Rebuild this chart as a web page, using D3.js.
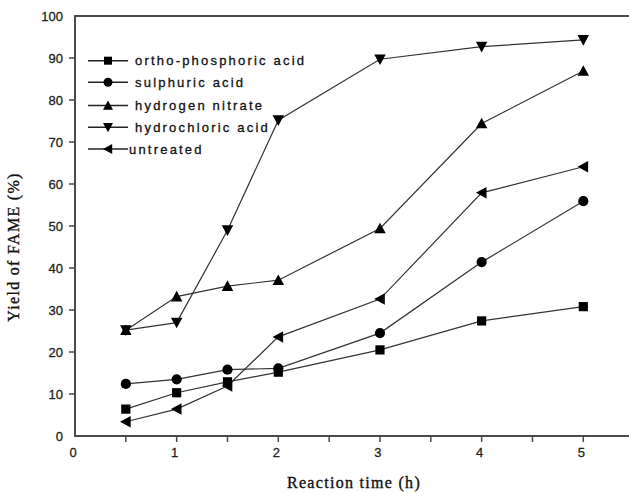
<!DOCTYPE html>
<meta charset="utf-8">
<html>
  <head>
    <style>
     body { margin: 0; background: #fff; }
     text.tick { font-family: "Liberation Sans", Arial, sans-serif; font-size: 13px; fill: #222; stroke: #222; stroke-width: 0.3px; }
     text.legend { font-family: "Liberation Sans", Arial, sans-serif; font-size: 13px; fill: #111; stroke: #111; stroke-width: 0.3px; letter-spacing: 2.2px; }
     text.title { font-family: "Liberation Serif", "Times New Roman", serif; font-size: 16px; fill: #111; stroke: #111; stroke-width: 0.35px; letter-spacing: 1.3px; }
    </style>
    <script src="https://cdnjs.cloudflare.com/ajax/libs/d3/7.8.5/d3.min.js"></script>
  </head>
  <body>
    <div id="chart"></div>
    <script type="text/javascript">
     var times = [0.5, 1, 1.5, 2, 3, 4, 5],
         seriesNames = ["ortho-phosphoric acid", "sulphuric acid", "hydrogen nitrate", "hydrochloric acid", "untreated"],
         phosphoric = [6.4, 10.3, 12.9, 15.2, 20.5, 27.4, 30.8],
         sulphuric = [12.4, 13.5, 15.8, 16.1, 24.5, 41.4, 55.9],
         nitrate = [25.2, 33.2, 35.7, 37.1, 49.4, 74.4, 86.9],
         hydrochloric = [25.2, 27.0, 49.0, 75.2, 89.7, 92.7, 94.3],
         untreated = [3.4, 6.4, 11.9, 23.6, 32.6, 57.9, 64.1],
         yTicks = [0, 10, 20, 30, 40, 50, 60, 70, 80, 90, 100],
         xTicks = [0, 0.5, 1, 1.5, 2, 2.5, 3, 3.5, 4, 4.5, 5, 5.5],
         xLabels = [0, 1, 2, 3, 4, 5];

     var allSeries = [phosphoric, sulphuric, nitrate, hydrochloric, untreated];
     var symbols = ["square", "circle", "up", "down", "left"];

     var W = 629, H = 493;
     var svg = d3.select("#chart").append("svg")
                 .attr("width", W).attr("height", H);

     var x = d3.scaleLinear().domain([0, 5]).range([75, 583.3]);
     var y = d3.scaleLinear().domain([0, 100]).range([436, 16]);

     var axisColor = "#4a4a4a";

     // ticks
     svg.selectAll(".ytick").data(yTicks.slice(1, -1)).enter().append("line")
        .attr("x1", 69).attr("x2", 75)
        .attr("y1", function(d) { return y(d); }).attr("y2", function(d) { return y(d); })
        .attr("stroke", axisColor).attr("stroke-width", 1.5);
     svg.selectAll(".xtick").data(xTicks.slice(1)).enter().append("line")
        .attr("x1", function(d) { return x(d); }).attr("x2", function(d) { return x(d); })
        .attr("y1", 436).attr("y2", 442)
        .attr("stroke", axisColor).attr("stroke-width", 1.5);

     // frame: left, bottom, top
     svg.append("path")
        .attr("d", "M" + W + "," + y(100) + "H" + x(0) + "V" + y(0) + "H" + W)
        .attr("fill", "none").attr("stroke", axisColor).attr("stroke-width", 2);

     svg.selectAll(".ylab").data(yTicks).enter().append("text")
        .attr("class", "tick")
        .attr("x", 63).attr("y", function(d) { return y(d) + 4.5; })
        .attr("text-anchor", "end")
        .text(function(d) { return d; });

     svg.selectAll(".xlab").data(xLabels).enter().append("text")
        .attr("class", "tick")
        .attr("x", function(d) { return x(d) - 2; }).attr("y", 457)
        .attr("text-anchor", "middle")
        .text(function(d) { return d; });

     svg.append("text").attr("class", "title")
        .attr("x", 354).attr("y", 488).attr("text-anchor", "middle")
        .text("Reaction time (h)");
     svg.append("text").attr("class", "title")
        .attr("transform", "translate(19,247) rotate(-90)")
        .attr("text-anchor", "middle")
        .text("Yield of FAME (%)");

     function marker(g, type, cx, cy, s) {
       if (type === "square") {
         g.append("rect").attr("x", cx - s).attr("y", cy - s)
          .attr("width", 2 * s).attr("height", 2 * s).attr("fill", "#000");
       } else if (type === "circle") {
         g.append("circle").attr("cx", cx).attr("cy", cy).attr("r", s + 0.5).attr("fill", "#000");
       } else {
         var pts;
         var a = s * 1.25, b = s * 1.05;
         if (type === "up") pts = [[cx, cy - a], [cx - a, cy + b], [cx + a, cy + b]];
         if (type === "down") pts = [[cx, cy + a], [cx - a, cy - b], [cx + a, cy - b]];
         if (type === "left") pts = [[cx - a, cy], [cx + b, cy - a], [cx + b, cy + a]];
         g.append("polygon").attr("points", pts.map(function(p) { return p.join(","); }).join(" "))
          .attr("fill", "#000");
       }
     }

     var line = d3.line()
                  .x(function(d, i) { return x(times[i]); })
                  .y(function(d) { return y(d); });

     allSeries.forEach(function(vals, k) {
       svg.append("path").attr("d", line(vals))
          .attr("fill", "none").attr("stroke", "#333").attr("stroke-width", 1.2);
     });
     allSeries.forEach(function(vals, k) {
       var g = svg.append("g");
       vals.forEach(function(v, i) { marker(g, symbols[k], x(times[i]), y(v), 4.6); });
     });

     // legend
     var legendY = [60.7, 82.3, 105.5, 127.3, 149];
     seriesNames.forEach(function(name, k) {
       var g = svg.append("g");
       var ly = legendY[k];
       g.append("line").attr("x1", 88).attr("x2", 128).attr("y1", ly).attr("y2", ly)
        .attr("stroke", "#222").attr("stroke-width", 1.5);
       marker(g, symbols[k], 108, ly, 4);
       g.append("text").attr("class", "legend")
        .attr("x", k === 4 ? 129 : 135).attr("y", ly + 4.5)
        .text(name);
     });
    </script>
  </body>
</html>
